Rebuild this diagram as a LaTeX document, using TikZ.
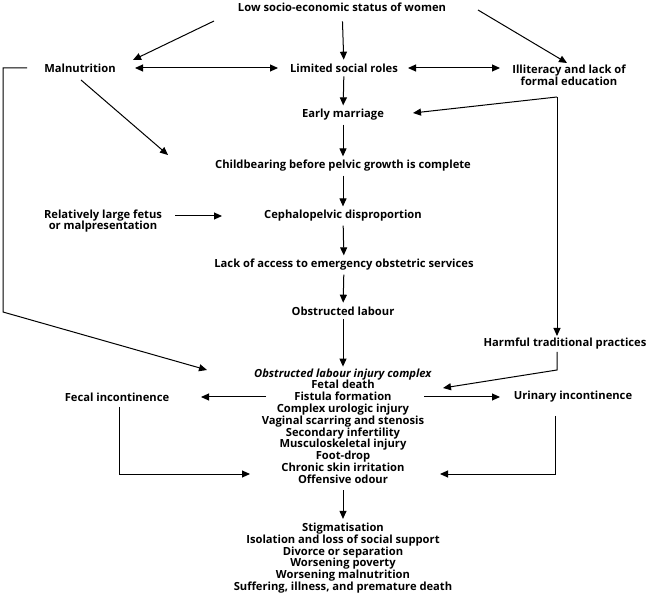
\documentclass[tikz,border=0pt]{standalone}
\usepackage{fontspec}
\setmainfont{Open Sans}
\usetikzlibrary{arrows.meta}
\begin{document}
\begin{tikzpicture}[x=1pt,y=-1pt,
  lbl/.style={inner sep=0pt, outer sep=4pt, align=center, font=\fontsize{11.2}{11.8}\selectfont\bfseries},
  arr/.style={-{Triangle[length=8pt,width=7pt]}, line width=1pt},
  dbl/.style={{Triangle[length=8pt,width=7pt]}-{Triangle[length=8pt,width=7pt]}, line width=1pt},
  ln/.style={line width=1pt}]
\useasboundingbox (0,0) rectangle (648,593);
\fill[white] (0,0) rectangle (648,593);
% nodes
\node[lbl] (low) at (342,7) {Low socio-economic status of women};
\node[lbl] (maln) at (80,68) {Malnutrition};
\node[lbl] (lim) at (344,68) {Limited social roles};
\node[lbl] (illit) at (569,75) {Illiteracy and lack of\\formal education};
\node[lbl] (early) at (343,115) {Early marriage};
\node[lbl] (child) at (343,166) {Childbearing before pelvic growth is complete};
\node[lbl] (ceph) at (343,216) {Cephalopelvic disproportion};
\node[lbl] (fetus) at (103,221) {Relatively large fetus\\or malpresentation};
\node[lbl] (lack) at (344,265) {Lack of access to emergency obstetric services};
\node[lbl] (obst) at (343,311) {Obstructed labour};
\node[lbl] (harm) at (565,344) {Harmful traditional practices};
\node[lbl] (inj) at (343,426) {\textit{Obstructed labour injury complex}\\Fetal death\\Fistula formation\\Complex urologic injury\\Vaginal scarring and stenosis\\Secondary infertility\\Musculoskeletal injury\\Foot-drop\\Chronic skin irritation\\Offensive odour};
\node[lbl] (fecal) at (117,397) {Fecal incontinence};
\node[lbl] (urin) at (573,397) {Urinary incontinence};
\node[lbl] (out) at (343,558) {Stigmatisation\\Isolation and loss of social support\\Divorce or separation\\Worsening poverty\\Worsening malnutrition\\Suffering, illness, and premature death};
% coordinates
\coordinate (lowL) at (214,21);
\coordinate (malnT) at (133,60);
\coordinate (lowR) at (478,10);
\coordinate (illitT) at (567,63);
\coordinate (malnE) at (135,68);
\coordinate (limW) at (278,68);
\coordinate (limE) at (408,68);
\coordinate (illitW) at (500,68);
\coordinate (corner) at (557,97);
\coordinate (earlyE) at (413,113);
\coordinate (harmN) at (557,336);
\coordinate (malnS) at (81,80);
\coordinate (childW) at (168,155);
\coordinate (fetusE) at (175,216);
\coordinate (cephW) at (222,216);
\coordinate (malnW) at (27,68);
\coordinate (loopA) at (3,68);
\coordinate (loopB) at (3,312);
\coordinate (injNW) at (207,370);
\coordinate (harmS) at (557,352);
\coordinate (harmB) at (557,370);
\coordinate (injNE) at (443,388);
\coordinate (injW) at (266,397);
\coordinate (fecalE) at (201,397);
\coordinate (injE) at (424,397);
\coordinate (urinW) at (500,397);
\coordinate (fecalS) at (119,407);
\coordinate (fecalC) at (119,474);
\coordinate (odourW) at (250,474);
\coordinate (urinS) at (555,416);
\coordinate (urinC) at (555,474);
\coordinate (odourE) at (440,474);
% connectors
\draw[arr] (lowL) -- (malnT);
\draw[arr, shorten <=6pt] (low) -- (lim);
\draw[arr] (lowR) -- (illitT);
\draw[dbl] (malnE) -- (limW);
\draw[dbl] (limE) -- (illitW);
\draw[arr] (lim) -- (early);
\draw[arr] (corner) -- (earlyE);
\draw[arr] (corner) -- (harmN);
\draw[arr] (malnS) -- (childW);
\draw[arr] (early) -- (child);
\draw[arr] (child) -- (ceph);
\draw[arr] (fetusE) -- (cephW);
\draw[arr] (ceph) -- (lack);
\draw[arr] (lack) -- (obst);
\draw[arr, shorten >=-2pt] (obst) -- (inj);
\draw[arr] (malnW) -- (loopA) -- (loopB) -- (injNW);
\draw[arr] (harmS) -- (harmB) -- (injNE);
\draw[arr] (injW) -- (fecalE);
\draw[arr] (injE) -- (urinW);
\draw[arr] (fecalS) -- (fecalC) -- (odourW);
\draw[arr] (urinS) -- (urinC) -- (odourE);
\draw[arr, shorten <=3pt] (inj) -- (out);
\end{tikzpicture}
\end{document}
